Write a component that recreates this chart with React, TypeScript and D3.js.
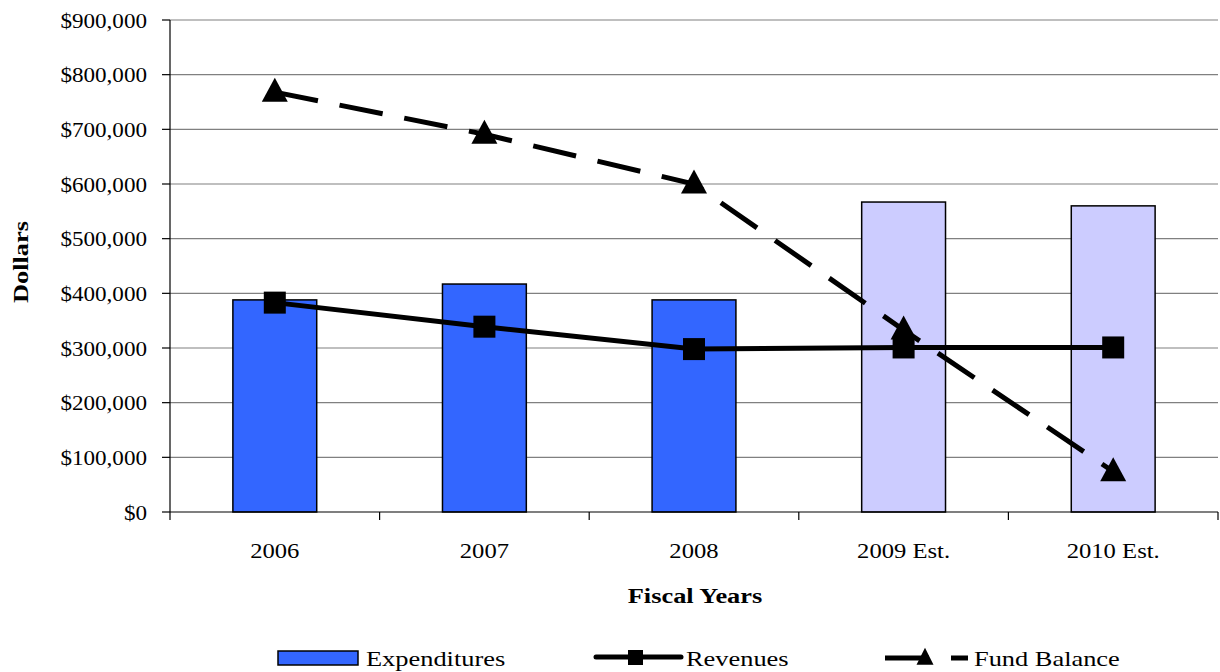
import * as d3 from 'd3'

const years = ['2006', '2007', '2008', '2009 Est.', '2010 Est.']
const expenditures = [388000, 417000, 388000, 567000, 560000]
const revenues = [383000, 339000, 298000, 301000, 301000]
const fundBalance = [768000, 691000, 600000, 333000, 74000]
const estimated = [false, false, false, true, true]
const yTicks = [0, 100000, 200000, 300000, 400000, 500000, 600000, 700000, 800000, 900000]

const W = 1220
const H = 672
const margin = { top: 20, right: 2, bottom: 160, left: 170 }
const font = '"Liberation Serif", "Times New Roman", serif'

// the reference's serif runs a bit wider than Liberation Serif, so stretch text horizontally
const Label = ({ x, y, sx, anchor = 'start', bold = false, rotate = 0, children }: any) => (
  <text
    transform={`translate(${x},${y}) rotate(${rotate}) scale(${sx},1)`}
    textAnchor={anchor}
    fontSize={22}
    fontWeight={bold ? 'bold' : 'normal'}
  >
    {children}
  </text>
)

const App = () => {
  const plotW = W - margin.left - margin.right
  const plotH = H - margin.top - margin.bottom

  const x = d3.scaleBand<string>().domain(years).range([0, plotW]).paddingInner(0.6).paddingOuter(0.3)
  const xOuter = d3.scaleBand<string>().domain(years).range([0, plotW])
  const y = d3.scaleLinear().domain([0, 900000]).range([plotH, 0])
  const fmt = d3.format('$,.0f')

  const cx = (i: number) => (xOuter(years[i]) as number) + xOuter.bandwidth() / 2

  const line = d3.line<number>().x((_, i) => cx(i)).y(d => y(d))

  const tri = (px: number, py: number, w: number, h: number) =>
    `M${px},${py - h * 0.6}L${px + w / 2},${py + h * 0.4}L${px - w / 2},${py + h * 0.4}Z`

  return (
    <svg width={W} height={H} style={{ position: 'absolute', left: 0, top: 0, background: '#fff' }} fontFamily={font}>
      <g transform={`translate(${margin.left},${margin.top})`}>
        {/* gridlines */}
        {yTicks.filter(t => t > 0).map(t => (
          <line key={t} x1={0} x2={plotW} y1={y(t)} y2={y(t)} stroke="#808080" strokeWidth={1.2} />
        ))}

        {/* bars */}
        {expenditures.map((v, i) => (
          <rect
            key={years[i]}
            x={cx(i) - x.bandwidth() / 2}
            y={y(v)}
            width={x.bandwidth()}
            height={plotH - y(v)}
            fill={estimated[i] ? '#CCCCFF' : '#3366FF'}
            stroke="#000"
            strokeWidth={1.5}
          />
        ))}

        {/* axes */}
        <line x1={0} x2={0} y1={0} y2={plotH} stroke="#000" strokeWidth={1.2} />
        <line x1={0} x2={plotW} y1={plotH} y2={plotH} stroke="#000" strokeWidth={1.2} />
        {yTicks.map(t => (
          <g key={t}>
            <line x1={-8} x2={0} y1={y(t)} y2={y(t)} stroke="#000" strokeWidth={1.2} />
            <Label x={-23} y={y(t) + 7.5} sx={1.05} anchor="end">{fmt(t)}</Label>
          </g>
        ))}
        {d3.range(years.length + 1).map(i => (
          <line key={i} x1={i * xOuter.bandwidth()} x2={i * xOuter.bandwidth()} y1={plotH} y2={plotH + 8} stroke="#000" strokeWidth={1.2} />
        ))}
        {years.map((yr, i) => (
          <Label key={yr} x={cx(i)} y={plotH + 46} sx={1.12} anchor="middle">{yr}</Label>
        ))}

        {/* revenues */}
        <path d={line(revenues) || ''} fill="none" stroke="#000" strokeWidth={5} />
        {revenues.map((v, i) => (
          <rect key={i} x={cx(i) - 11} y={y(v) - 11} width={22} height={22} fill="#000" />
        ))}

        {/* fund balance */}
        <path d={line(fundBalance) || ''} fill="none" stroke="#000" strokeWidth={5} strokeDasharray="44 22" />
        {fundBalance.map((v, i) => (
          <path key={i} d={tri(cx(i), y(v), 26, 24)} fill="#000" />
        ))}
      </g>

      {/* axis titles */}
      <Label x={28} y={margin.top + plotH / 2 - 4} sx={1.2} rotate={-90} anchor="middle" bold>Dollars</Label>
      <Label x={695} y={603} sx={1.2} anchor="middle" bold>Fiscal Years</Label>

      {/* legend */}
      <rect x={278} y={651} width={80} height={14} fill="#3366FF" stroke="#000" strokeWidth={1.5} />
      <Label x={366} y={666} sx={1.2}>Expenditures</Label>

      <line x1={596} x2={681} y1={657} y2={657} stroke="#000" strokeWidth={5} strokeLinecap="round" />
      <rect x={628} y={650} width={15} height={15} fill="#000" />
      <Label x={686} y={666} sx={1.2}>Revenues</Label>

      <line x1={885} x2={968} y1={658} y2={658} stroke="#000" strokeWidth={5} strokeDasharray="44 22" />
      <path d={tri(925, 658, 17, 17)} fill="#000" />
      <Label x={974} y={666} sx={1.2}>Fund Balance</Label>
    </svg>
  )
}

export default App
